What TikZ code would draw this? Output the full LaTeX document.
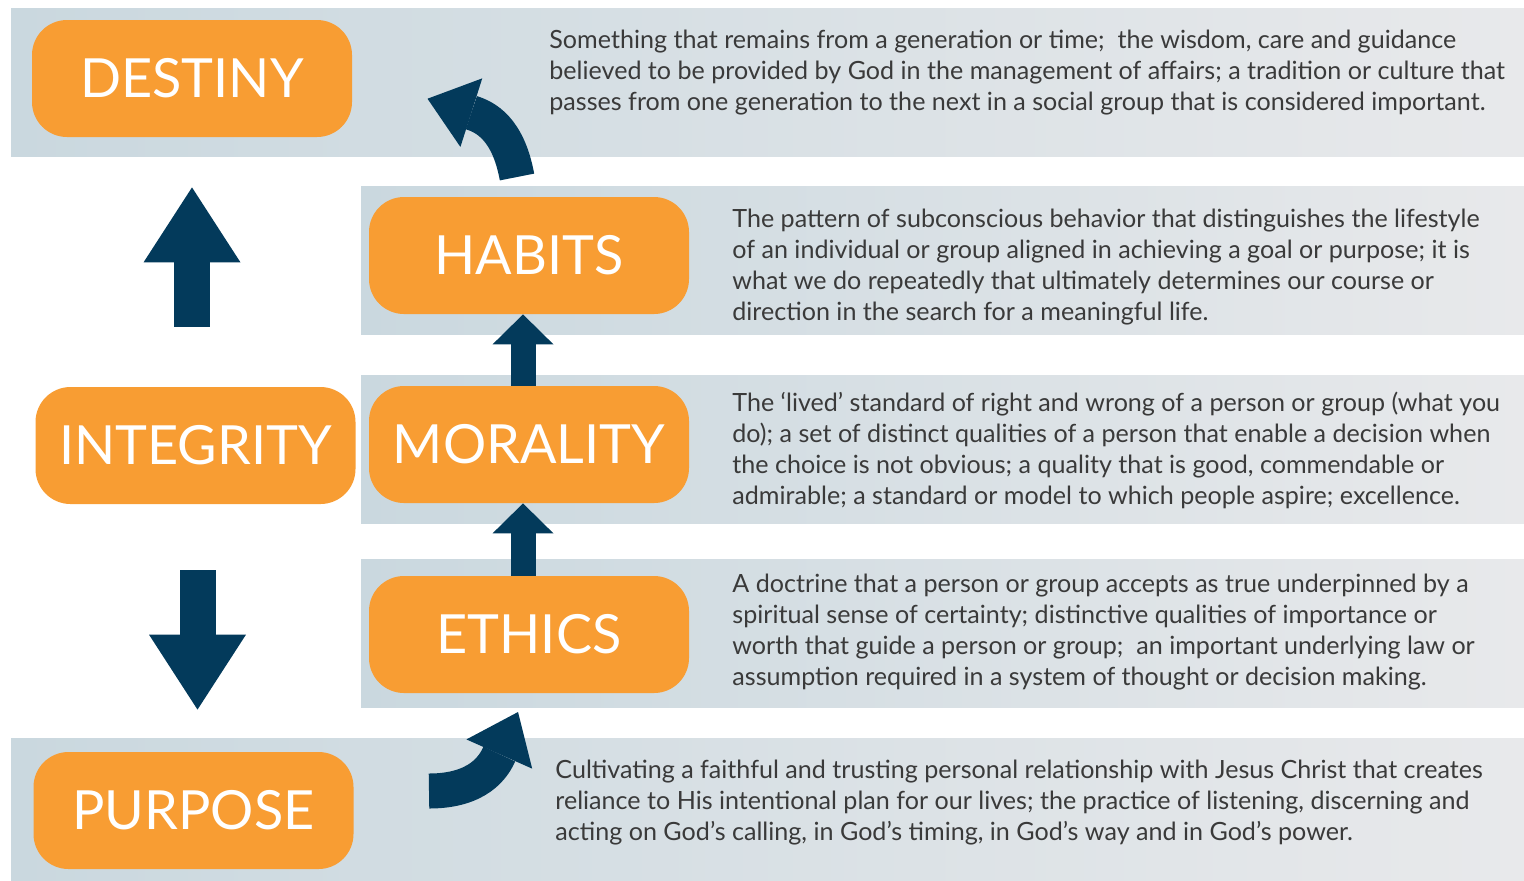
\documentclass[tikz,border=0pt]{standalone}
\usepackage{fontspec}
\setmainfont{Lato}
\usetikzlibrary{arrows.meta}
\definecolor{boxorange}{HTML}{F89D33}
\definecolor{arrownavy}{HTML}{033A5B}
\definecolor{bandleft}{HTML}{CAD8DF}
\definecolor{bandright}{HTML}{E8E9EB}
\definecolor{desctext}{HTML}{3A3A3A}

\begin{document}
\begin{tikzpicture}[x=0.5pt,y=-0.5pt]
            \tikzstyle{word}=[fill=boxorange, rounded corners=17.5pt, minimum width=160pt, minimum height=58.5pt, inner sep=0pt, text=white, font=\fontsize{27}{30}\selectfont]
            \tikzstyle{desc}=[anchor=north west, align=left, inner sep=0pt, text=desctext, font=\fontsize{12.55}{15.5}\selectfont]
            \tikzstyle{band}=[left color=bandleft, right color=bandright]
            \tikzstyle{flow}=[draw=arrownavy, line width=12.5pt, -{Triangle[width=30.5pt,length=15pt,line width=0pt]}]
            \tikzstyle{bigflow}=[draw=arrownavy, line width=18pt, -{Triangle[width=48.5pt,length=37.5pt,line width=0pt]}]
            \tikzstyle{bendflow}=[draw=arrownavy, line width=17.5pt, -{Triangle[width=36pt,length=23pt,line width=0pt]}]
            \useasboundingbox (0,0) rectangle (1524,880);
            \shade [band] (11,8) rectangle (1524,156);
            \shade [band] (361,186) rectangle (1524,334);
            \shade [band] (361,375) rectangle (1524,523);
            \shade [band] (361,559) rectangle (1524,707);
            \shade [band] (11,738) rectangle (1524,880);
            \node [word] (destiny) at (192,78.5) {DESTINY};
            \node [word] (habits) at (529,255.5) {HABITS};
            \node [word] (integrity) at (195.5,445.5) {INTEGRITY};
            \node [word] (morality) at (529,444.5) {MORALITY};
            \node [word] (ethics) at (529,634.5) {ETHICS};
            \node [word] (purpose) at (193.5,810.5) {PURPOSE};
            \node [desc] (destinytext) at (549,30) {Something that remains from a generation or time;\ \ the wisdom, care and guidance\\believed to be provided by God in the management of affairs; a tradition or culture that\\passes from one generation to the next in a social group that is considered important.};
            \node [desc] (habitstext) at (732,209) {The pattern of subconscious behavior that distinguishes the lifestyle\\of an individual or group aligned in achieving a goal or purpose; it is\\what we do repeatedly that ultimately determines our course or\\direction in the search for a meaningful life.};
            \node [desc] (moralitytext) at (732,392) {The ‘lived’ standard of right and wrong of a person or group (what you\\do); a set of distinct qualities of a person that enable a decision when\\the choice is not obvious; a quality that is good, commendable or\\admirable; a standard or model to which people aspire; excellence.};
            \node [desc] (ethicstext) at (732,574) {A doctrine that a person or group accepts as true underpinned by a\\spiritual sense of certainty; distinctive qualities of importance or\\worth that guide a person or group;\ \ an important underlying law or\\assumption required in a system of thought or decision making.};
            \node [desc] (purposetext) at (555,760) {Cultivating a faithful and trusting personal relationship with Jesus Christ that creates\\reliance to His intentional plan for our lives; the practice of listening, discerning and\\acting on God’s calling, in God’s timing, in God’s way and in God’s power.};
            \draw [flow] ([xshift=-3pt]ethics.north) -- ([xshift=-3pt]morality.south);
            \draw [flow] ([xshift=-3pt]morality.north) -- ([xshift=-3pt]habits.south);
            \draw [bigflow] ([xshift=-1.75pt,yshift=30pt]integrity.north) -- ([yshift=-25pt]destiny.south);
            \draw [bigflow] ([xshift=1pt,yshift=-33pt]integrity.south) -- ([xshift=2pt,yshift=21pt]purpose.north);
            \coordinate (risefoot) at (517,177);
            \coordinate (risetip) at (427.5,98.7);
            \draw [bendflow] (risefoot) .. controls (508,128) and (485,117) .. (risetip);
            \coordinate (liftfoot) at (429,791);
            \coordinate (lifttip) at (518,712);
            \draw [bendflow] (liftfoot) .. controls (479,791) and (494,766) .. (lifttip);
\end{tikzpicture}
\end{document}
